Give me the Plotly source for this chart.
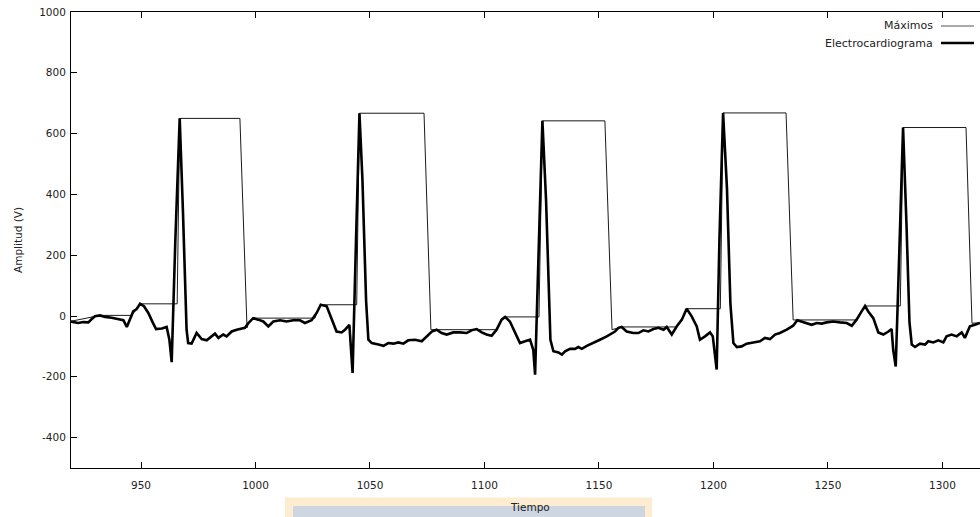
import plotly.graph_objects as go

# Electrocardiogram samples (time, amplitude)
ecg_t = [919.0, 921.2, 922.6, 924.8, 927.0, 928.5, 929.9, 932.1, 934.3, 937.2,
         940.1, 942.3, 943.8, 945.2, 946.6, 948.1, 949.6, 951.3, 953.2, 955.1,
         956.6, 959.1, 961.2, 962.4, 963.4, 965.0, 966.9, 968.3, 969.9, 970.6,
         972.1, 974.3, 976.5, 978.7, 980.9, 982.3, 983.8, 985.9, 987.4, 989.6,
         991.8, 995.4, 996.9, 999.0, 1001.2, 1003.4, 1005.6, 1007.8, 1010.7, 1013.6,
         1016.5, 1019.4, 1021.6, 1023.5, 1024.5, 1026.7, 1028.5, 1031.1, 1033.2, 1035.4,
         1037.6, 1039.1, 1041.0, 1042.4, 1043.9, 1045.4, 1046.7, 1048.3, 1049.3, 1050.8,
         1053.7, 1055.9, 1058.0, 1060.2, 1062.4, 1064.6, 1066.7, 1069.7, 1072.6, 1074.8,
         1077.0, 1079.1, 1081.3, 1083.5, 1086.4, 1089.3, 1092.2, 1094.4, 1096.6, 1098.8,
         1100.9, 1103.1, 1105.3, 1107.5, 1109.0, 1111.1, 1113.3, 1115.5, 1117.7, 1119.9,
         1121.3, 1122.1, 1123.6, 1125.3, 1126.9, 1128.2, 1128.8, 1130.1, 1132.3, 1133.8,
         1135.2, 1137.4, 1139.5, 1141.0, 1142.5, 1144.7, 1147.6, 1150.4, 1153.4, 1155.5,
         1157.0, 1158.5, 1159.9, 1162.1, 1165.0, 1167.2, 1169.4, 1171.6, 1173.8, 1176.0,
         1178.2, 1179.6, 1181.8, 1184.0, 1186.2, 1188.3, 1190.5, 1192.7, 1194.1, 1196.3,
         1198.5, 1199.7, 1201.4, 1202.6, 1204.2, 1205.9, 1207.4, 1208.7, 1210.2, 1212.3,
         1214.5, 1217.4, 1220.3, 1222.5, 1224.7, 1226.9, 1229.0, 1232.0, 1234.8, 1236.6,
         1238.5, 1240.7, 1242.9, 1245.1, 1247.3, 1249.4, 1252.3, 1255.3, 1258.2, 1260.4,
         1262.5, 1264.7, 1266.2, 1267.6, 1269.8, 1272.0, 1274.2, 1276.4, 1277.8, 1278.5,
         1279.6, 1281.2, 1282.8, 1284.3, 1285.6, 1286.6, 1288.0, 1290.2, 1292.4, 1293.8,
         1296.0, 1298.2, 1300.4, 1301.8, 1304.0, 1306.2, 1308.4, 1309.8, 1312.0, 1314.2,
         1316.4]
ecg_v = [-18, -20, -23, -20, -21, -10, -1, 2, -3, -6,
         -10, -14, -36, -10, 15, 23, 40, 32, 10, -21,
         -43, -41, -36, -78, -152, 250, 650, 350, -45, -89,
         -91, -56, -76, -80, -67, -58, -72, -61, -67, -51,
         -45, -39, -23, -7, -12, -18, -34, -18, -14, -18,
         -14, -14, -23, -18, -14, 10, 37, 32, -7, -51,
         -54, -45, -29, -187, 250, 667, 450, 50, -78, -89,
         -94, -98, -89, -91, -87, -91, -80, -78, -83, -67,
         -51, -45, -56, -61, -54, -54, -56, -47, -43, -54,
         -61, -65, -45, -12, -3, -18, -56, -89, -83, -78,
         -111, -193, 200, 642, 380, 40, -78, -116, -120, -127,
         -116, -108, -108, -102, -108, -98, -89, -78, -67, -56,
         -51, -39, -36, -51, -56, -56, -47, -51, -43, -39,
         -45, -36, -61, -34, -12, 24, -1, -34, -78, -67,
         -54, -67, -176, 250, 668, 420, 40, -89, -102, -100,
         -91, -87, -83, -72, -76, -61, -56, -45, -32, -14,
         -18, -23, -29, -23, -25, -21, -18, -21, -23, -32,
         -12, 15, 33, 15, -7, -54, -61, -51, -43, -111,
         -166, 220, 620, 300, -20, -94, -102, -91, -94, -83,
         -87, -80, -87, -67, -61, -67, -54, -72, -34, -29,
         -23]

# Running maxima of the signal (vertices of the step curve)
max_t = [919.0, 929.9, 932.1, 946.0, 948.1, 949.6, 965.8, 966.9, 993.2, 996.3,
         996.9, 999.0, 1026.0, 1026.7, 1028.5, 1044.2, 1045.4, 1073.6, 1076.6, 1105.3,
         1107.5, 1109.0, 1123.8, 1125.3, 1152.6, 1155.7, 1158.5, 1159.9, 1183.8, 1184.0,
         1186.2, 1188.3, 1203.0, 1204.2, 1231.7, 1234.8, 1262.3, 1264.7, 1266.2, 1281.6,
         1282.8, 1310.3, 1312.9, 1314.2, 1316.4]
max_v = [-18, -1, 2, 2, 23, 40, 40, 650, 650, -39,
         -23, -7, -7, 10, 37, 37, 667, 667, -45, -45,
         -12, -3, -3, 642, 642, -45, -39, -36, -36, -34,
         -12, 24, 24, 668, 668, -13, -13, 15, 33, 33,
         620, 620, -24, -23, -23]

x_ticks = [950, 1000, 1050, 1100, 1150, 1200, 1250, 1300]
y_ticks = [-400, -200, 0, 200, 400, 600, 800, 1000]
y_tick_text = ["-400", "-200", "0", "200", "400", "600", "800", "1000"]

FONT = "DejaVu Sans"
TXT = "#222222"

fig = go.Figure()
fig.add_trace(go.Scatter(x=max_t, y=max_v, mode="lines", name="Máximos",
                         line=dict(color="#1a1a1a", width=1)))
fig.add_trace(go.Scatter(x=ecg_t, y=ecg_v, mode="lines", name="Electrocardiograma",
                         line=dict(color="#000000", width=2.6)))

# plot area in pixels: x 71..980, y 12..468
def px_x(p):
    return (p - 71) / 909.0

def px_y(p):
    return (468 - p) / 456.0

shapes = [
    # highlighted strip under the x-axis title
    dict(type="rect", xref="paper", yref="paper", x0=px_x(285), x1=px_x(652),
         y0=px_y(520), y1=px_y(497.5), line=dict(width=0), fillcolor="#fdeccf",
         layer="below"),
    dict(type="rect", xref="paper", yref="paper", x0=px_x(293), x1=px_x(645),
         y0=px_y(520), y1=px_y(506), line=dict(width=0), fillcolor="#cdd6e1",
         layer="below"),
    # legend samples
    dict(type="line", xref="paper", yref="paper", x0=px_x(941), x1=px_x(974),
         y0=px_y(26), y1=px_y(26), line=dict(color="#555555", width=1)),
    dict(type="line", xref="paper", yref="paper", x0=px_x(941), x1=px_x(974),
         y0=px_y(43), y1=px_y(43), line=dict(color="#000000", width=2.6)),
]

annotations = [
    dict(text="Máximos", xref="paper", yref="paper", x=px_x(935), y=px_y(26),
         xanchor="right", yanchor="middle", showarrow=False,
         font=dict(family=FONT, size=11, color=TXT)),
    dict(text="Electrocardiograma", xref="paper", yref="paper", x=px_x(935), y=px_y(43),
         xanchor="right", yanchor="middle", showarrow=False,
         font=dict(family=FONT, size=11, color=TXT)),
    dict(text="Tiempo", xref="paper", yref="paper", x=px_x(530), y=px_y(507),
         xanchor="center", yanchor="middle", showarrow=False,
         font=dict(family=FONT, size=10.5, color=TXT)),
    dict(text="Amplitud (V)", xref="paper", yref="paper", x=px_x(18), y=0.5,
         xanchor="center", yanchor="middle", showarrow=False, textangle=-90,
         font=dict(family=FONT, size=10.5, color=TXT)),
]

fig.update_layout(
    width=980, height=517,
    margin=dict(l=71, r=0, t=12, b=49, pad=0),
    paper_bgcolor="white", plot_bgcolor="white",
    showlegend=False,
    font=dict(family=FONT, size=10.5, color=TXT),
    shapes=shapes, annotations=annotations,
    xaxis=dict(range=[919.43, 1316.4], tickvals=x_ticks, showgrid=False,
               zeroline=False, showline=True, linecolor="black", linewidth=1,
               mirror="ticks", ticks="inside", ticklen=6, tickcolor="black",
               ticklabelstandoff=7,
               tickfont=dict(family=FONT, size=10.5, color=TXT)),
    yaxis=dict(range=[-500, 1000], tickvals=y_ticks, ticktext=y_tick_text,
               showgrid=False, zeroline=False, showline=True, linecolor="black",
               linewidth=1, ticks="inside", ticklen=6, tickcolor="black",
               ticklabelstandoff=2,
               tickfont=dict(family=FONT, size=10.5, color=TXT)),
)

fig.write_html("out.html")
